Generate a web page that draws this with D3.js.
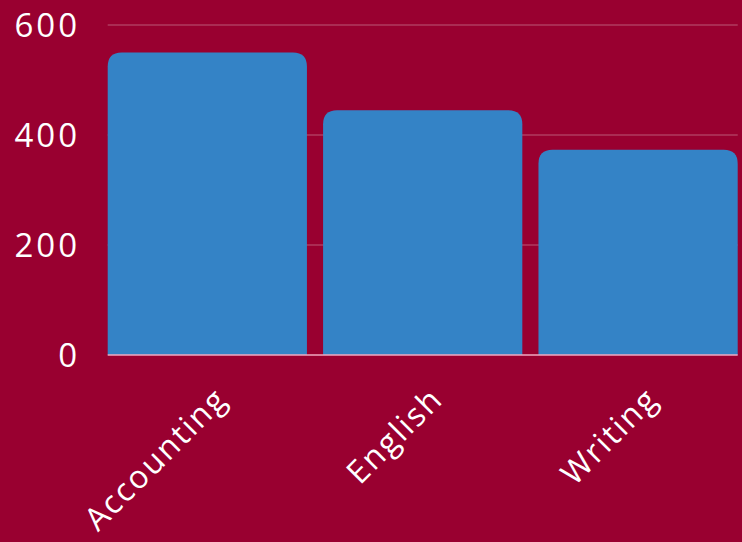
<!DOCTYPE html>
<html>
<head>
<meta charset="utf-8">
<script src="https://cdn.jsdelivr.net/npm/d3@7"></script>
<style>
  html, body { margin: 0; padding: 0; background: #990030; }
  text { font-family: "Open Sans", Lato, sans-serif; fill: #ffffff; }
</style>
</head>
<body>
<div id="chart"></div>
<script>
// chart data
var categories = ["Accounting", "English", "Writing"];
var values = [550, 445, 373];
var yTicks = [0, 200, 400, 600];

var w = 742, h = 542;
var plotL = 107.7, plotR = 737.7, plotT = 25, plotB = 355;

var svg = d3.select("#chart")
	.append("svg")
	.attr("width", w)
	.attr("height", h);

svg.append("rect")
	.attr("width", w)
	.attr("height", h)
	.attr("fill", "#990030");

var x = d3.scaleBand()
	.domain(categories)
	.range([plotL, plotR])
	.paddingInner(0.075)
	.paddingOuter(0);

var y = d3.scaleLinear()
	.domain([0, 600])
	.range([plotB, plotT]);

// gridlines
svg.append("g").selectAll(".grid")
	.data(yTicks.slice(1))
	.enter()
	.append("line")
	.attr("class", "grid")
	.attr("x1", plotL)
	.attr("x2", plotR)
	.attr("y1", function(d){ return y(d); })
	.attr("y2", function(d){ return y(d); })
	.attr("stroke", "#ffffff")
	.attr("stroke-opacity", 0.35)
	.attr("stroke-width", 1.2);

// bars with rounded tops
var r = 14;
svg.append("g").selectAll(".bar")
	.data(values)
	.enter()
	.append("path")
	.attr("class", "bar")
	.attr("fill", "#3483c6")
	.attr("d", function(d, i){
		var x0 = x(categories[i]), x1 = x0 + x.bandwidth();
		var y0 = y(d), yb = y(0);
		return "M" + x0 + "," + yb +
			"V" + (y0 + r) +
			"Q" + x0 + "," + y0 + " " + (x0 + r) + "," + y0 +
			"H" + (x1 - r) +
			"Q" + x1 + "," + y0 + " " + x1 + "," + (y0 + r) +
			"V" + yb + "Z";
	});

// baseline
svg.append("line")
	.attr("x1", plotL)
	.attr("x2", plotR)
	.attr("y1", y(0))
	.attr("y2", y(0))
	.attr("stroke", "#f0a8c0")
	.attr("stroke-width", 1.5);

// y axis labels
var yAxis = d3.axisLeft(y).tickValues(yTicks).tickSize(0).tickPadding(0);
var yG = svg.append("g")
	.attr("transform", "translate(80,0)")
	.call(yAxis);
yG.select(".domain").remove();
yG.selectAll("text")
	.attr("font-size", 33)
	.attr("font-weight", 500)
	.attr("letter-spacing", 3)
	.attr("fill", "#ffffff")
	.attr("dy", "0.36em");

// x axis labels
var xAxis = d3.axisBottom(x).tickSize(0).tickPadding(0);
var xG = svg.append("g")
	.attr("transform", "translate(0," + y(0) + ")")
	.call(xAxis);
xG.select(".domain").remove();
xG.selectAll("text")
	.attr("font-size", 32)
	.attr("font-weight", 500)
	.attr("letter-spacing", 2)
	.attr("fill", "#ffffff")
	.attr("text-anchor", "end")
	.attr("y", 0)
	.attr("dy", 0)
	.attr("transform", "translate(22,46) rotate(-45)");
</script>
</body>
</html>
